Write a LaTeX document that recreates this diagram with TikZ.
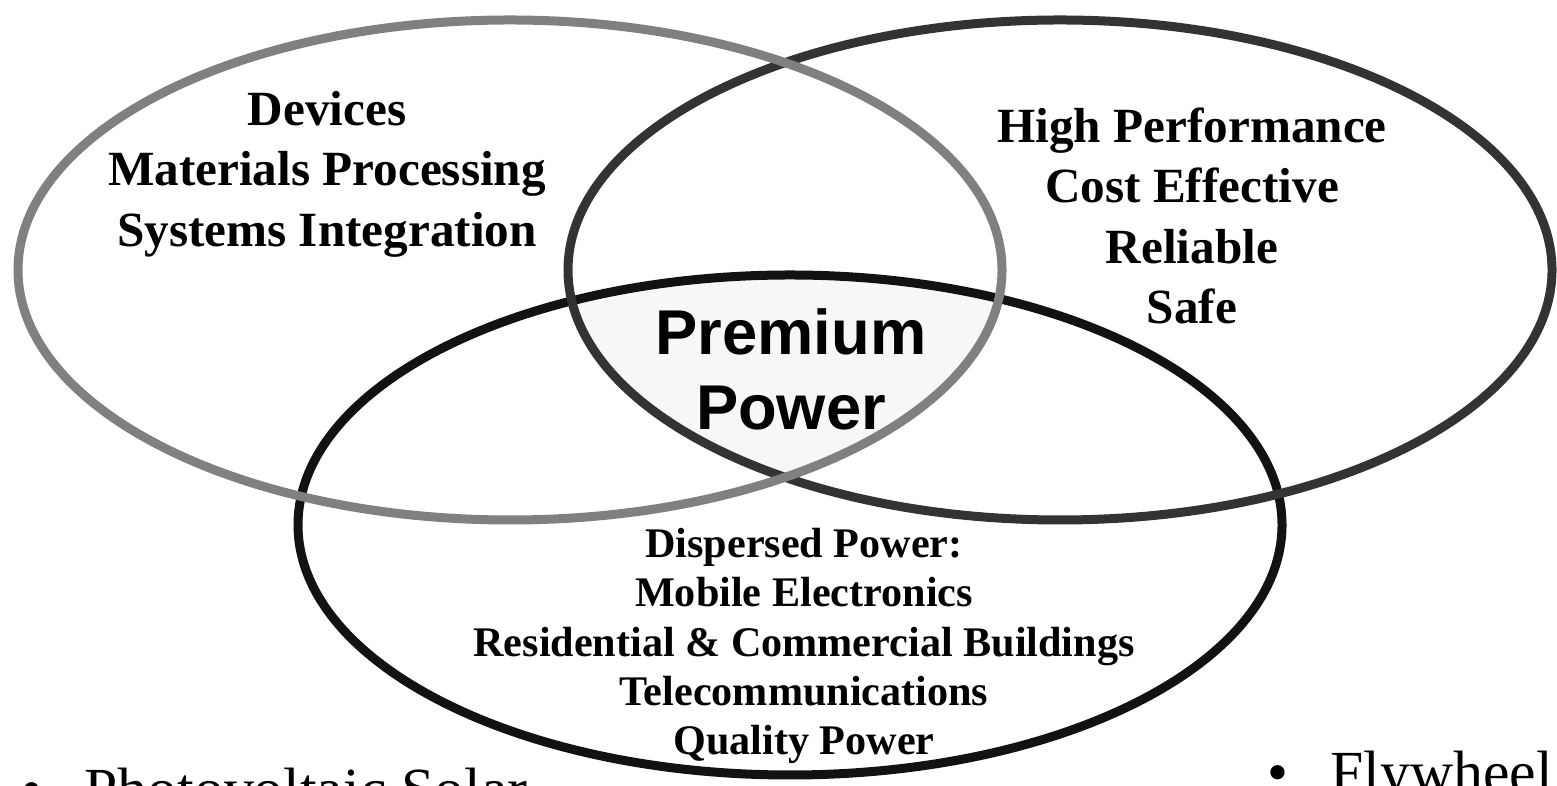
\documentclass[tikz,border=0pt]{standalone}
\usepackage{fontspec}
\setmainfont{Liberation Serif}
\setsansfont{Liberation Sans}
\usetikzlibrary{positioning}

\begin{document}
\begin{tikzpicture}[
  ring/.style={line width=0.09cm},
  ringtext/.style={font=\bfseries\fontsize{14}{17.2}\selectfont, align=center},
  smalltext/.style={font=\bfseries\fontsize{12}{14}\selectfont, align=center},
  bullettext/.style={font=\fontsize{17}{20}\selectfont, anchor=base west, inner sep=0pt}
]
  \useasboundingbox (0,0) rectangle (15.57,7.86);

  % Shared core of the three sets
  \begin{scope}
    \clip (5.10,5.16) ellipse [x radius=4.92, y radius=2.50];
    \clip (10.60,5.16) ellipse [x radius=4.92, y radius=2.50];
    \fill[black!3] (7.90,2.61) ellipse [x radius=4.92, y radius=2.50];
  \end{scope}

  % The three sets
  \draw[ring, black!93] (7.90,2.61) ellipse [x radius=4.92, y radius=2.50];  % applications
  \draw[ring, black!80] (10.60,5.16) ellipse [x radius=4.92, y radius=2.50]; % requirements
  \draw[ring, black!50] (5.10,5.16) ellipse [x radius=4.92, y radius=2.50];  % technology

  % Set contents
  \node[ringtext] (tech) at (3.27,6.12) {Devices\\Materials Processing\\Systems Integration};
  \node[ringtext] (reqs) at (11.92,5.70) {High Performance\\Cost Effective\\Reliable\\Safe};
  \node[smalltext] (apps) at (8.04,1.40) {Dispersed Power:\\Mobile Electronics\\Residential \& Commercial Buildings\\Telecommunications\\Quality Power};
  \node[font=\sffamily\bfseries\fontsize{18}{21.3}\selectfont, align=center] (core) at (7.91,4.17) {Premium\\Power};

  % Bullet list running off the bottom
  \node[bullettext] (pv) at (0.21,-0.24) {\textbullet\hspace{0.42cm}Photovoltaic Solar};
  \node[bullettext] (fly) at (12.67,-0.07) {\textbullet\hspace{0.42cm}Flywheel};
\end{tikzpicture}
\end{document}
